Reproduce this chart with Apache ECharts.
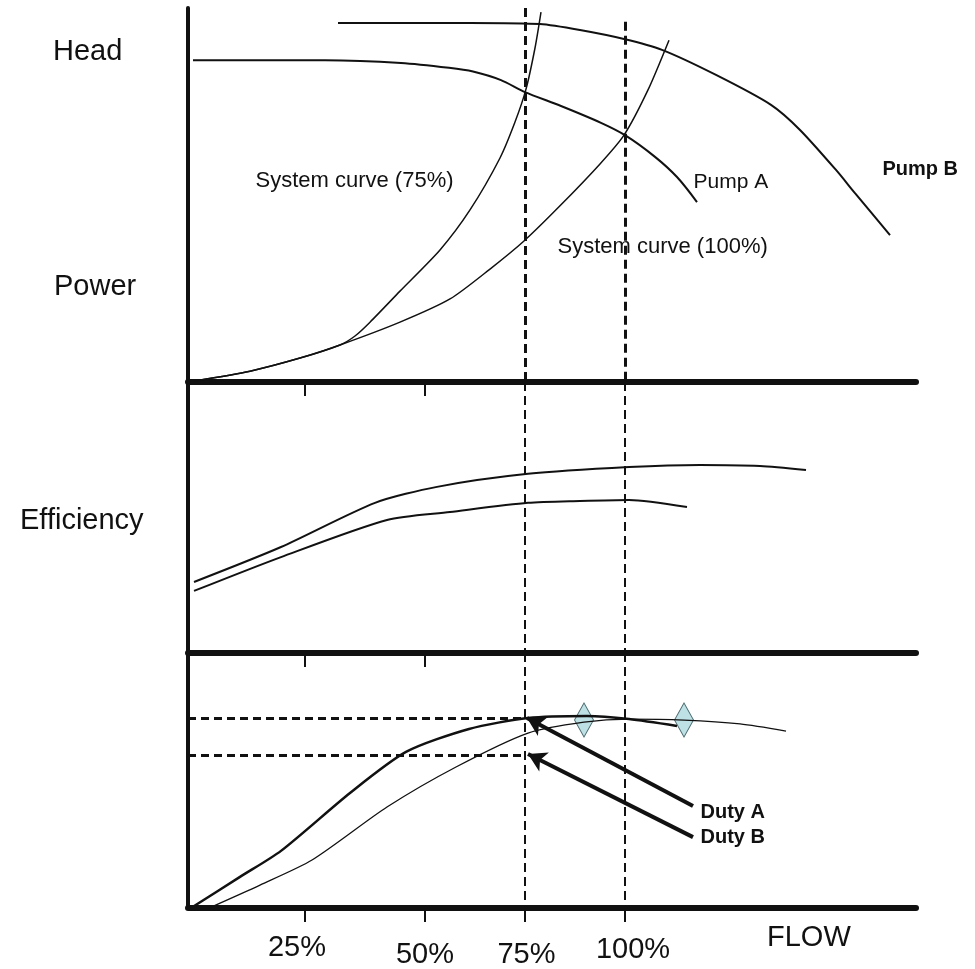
<!DOCTYPE html>
<html><head><meta charset="utf-8">
<script src="https://cdn.jsdelivr.net/npm/echarts@6/dist/echarts.min.js"></script>
<style>html,body{margin:0;padding:0;background:#fff}#c{width:975px;height:969px}</style>
</head><body><div id="c"></div>
<script>
// ---- x scale: flow (%) on the schematic's drawn scale ----
const flowMin = -9.25, flowMax = 172.75;
const flowTicks = [20, 50, 75, 100];            // where the tick marks are drawn
const flowTickLabels = ['25%', '50%', '75%', '100%'];
const panelTicks = [20, 50];
const dutyFlows = [75, 100];                    // dashed duty lines

// ---- Panel 1: head / system curves  [flow, value 0-100] ----
const pumpAHead = [[-8,86],[9,86],[25,86],[44,85.3],[56,84],[62,83],[69,80.7],[75,77.5],[84,73.8],[94,69.3],[100,66],[107.5,60.2],[113,54.8],[118,48.1]];
const pumpBHead = [[28.25,96],[43.75,96],[61.25,96],[78.75,95.7],[88.75,94.1],[99.75,91.7],[109.25,88.8],[122.75,82.1],[136.5,74.1],[143.75,67.4],[152.75,56.7],[157.5,50.5],[166.25,39.3]];
const system75 = [[-7.5,0.3],[6.25,2.9],[18.75,6.4],[28.75,9.9],[32.5,12.3],[36.25,16.0],[43.75,24.3],[53.75,35.3],[61.25,46.0],[68.75,59.9],[72.5,69.5],[75.25,78.3],[77.5,89.3],[79,98.9]];
const system100 = [[-7.5,0.3],[6.25,2.9],[18.75,6.4],[28.75,9.9],[43.75,16.0],[56.25,22.2],[66.25,30.2],[74.75,37.7],[83.75,47.1],[93.75,58.3],[99.75,66.0],[105.75,78.1],[111,91.4]];
const duty100Top = 96.3;
const panel1Names = ['System curve (75%)', 'System curve (100%)', 'Pump A', 'Pump B'];
const panel1NamePos = [[7.5,53.7],[83,36.1],[117,53.5],[164.25,56.7]];

// ---- Panel 2: efficiency ----
const effUpper = [[-7.75,26.2],[14,39.1],[37.5,55.4],[53,61.3],[75.75,66.1],[101,68.6],[118.75,69.4],[133.75,69.0],[145.25,67.5]];
const effLower = [[-7.75,22.9],[14,35.4],[40.5,49.1],[56.25,52.0],[75.75,55.4],[88.75,56.1],[101,56.5],[115.5,53.9]];

// ---- Panel 3: duty curves ----
const dutyCurveA = [[-8.5,0],[3.75,12.2],[14,22.4],[31.25,45.1],[45.25,61.2],[61,70.2],[75.75,74.5],[90.5,75.3],[101,74.1],[113,71.4]];
const dutyCurveB = [[-4,0],[8.75,9.0],[21.75,18.8],[40.5,39.6],[57.75,55.3],[75.75,68.6],[89.75,72.9],[101,74.1],[114.75,73.7],[128.75,72.2],[140.25,69.4]];
const bepPoints = [[89.75,73.7],[114.75,73.7]];
const dutyLevels = [74.5, 60.0];
const dutyArrows = [[[117,40.0],[75.5,74.5]], [[117,27.8],[75.75,60.4]]];
const dutyNames = ['Duty A', 'Duty B'];
const dutyNamePos = [[118.75,37.6],[118.75,27.5]];

// ---- styles ----
const INK = '#111';
const FONT = '"Liberation Sans", Arial, sans-serif';
const GL = 188, GW = 728;
const grids = [
  {left: GL, top: 8, width: GW, height: 374},
  {left: GL, top: 382, width: GW, height: 271},
  {left: GL, top: 653, width: GW, height: 255}
];
function xAxis(i, ticks, labels) {
  return {
    type: 'value', gridIndex: i, min: flowMin, max: flowMax,
    axisLine: {show: true, onZero: false, lineStyle: {color: INK, width: 6}},
    axisTick: {show: true, customValues: ticks, length: 14, lineStyle: {color: INK, width: 2}},
    axisLabel: labels ? {
      show: true, customValues: ticks, margin: 25, fontSize: 29, color: INK, fontFamily: FONT,
      formatter: v => { const k = flowTicks.indexOf(v); return '{t' + k + '|' + flowTickLabels[k] + '}'; },
      rich: {
        t0: {padding: [0, 16, 0, 0]},
        t1: {padding: [7, 0, 0, 0]},
        t2: {padding: [7, 0, 0, 3]},
        t3: {padding: [2, 0, 0, 16]}
      }
    } : {show: false},
    splitLine: {show: false}
  };
}
function yAxis(i) {
  return {
    type: 'value', gridIndex: i, min: 0, max: 100,
    axisLine: {show: true, onZero: false, lineStyle: {color: INK, width: 4}},
    axisTick: {show: false}, axisLabel: {show: false}, splitLine: {show: false}
  };
}
function curve(name, data, i, width, extra) {
  return Object.assign({
    name, type: 'line', xAxisIndex: i, yAxisIndex: i, data, smooth: 0.25,
    showSymbol: false, symbol: 'none', silent: true,
    lineStyle: {color: INK, width}
  }, extra || {});
}
function vDash(width, top) {
  return dutyFlows.map((f, k) => [
    {coord: [f, top ? top[k] : 100]}, {coord: [f, 0]}
  ]).map(d => { d[0].lineStyle = {type: [9, 5], width, color: INK}; return d; });
}
function textSeries(i, names, pos, styles) {
  return {
    type: 'scatter', xAxisIndex: i, yAxisIndex: i, silent: true, symbolSize: 1,
    itemStyle: {color: 'rgba(0,0,0,0)', opacity: 1},
    data: names.map((n, k) => ({
      name: n, value: pos[k],
      label: Object.assign({show: true, position: 'right', distance: 0, formatter: '{b}',
        color: INK, fontFamily: FONT, opacity: 1}, styles[k])
    }))
  };
}

const option = {
  animation: false,
  backgroundColor: '#fff',
  grid: grids,
  xAxis: [xAxis(0, panelTicks, false), xAxis(1, panelTicks, false), xAxis(2, flowTicks, true)],
  yAxis: [yAxis(0), yAxis(1), yAxis(2)],
  graphic: [
    {type: 'text', x: 53, y: 51.5, style: {text: 'Head', font: '29px ' + FONT, fill: INK, verticalAlign: 'middle'}},
    {type: 'text', x: 54, y: 286.5, style: {text: 'Power', font: '29px ' + FONT, fill: INK, verticalAlign: 'middle'}},
    {type: 'text', x: 20, y: 521, style: {text: 'Efficiency', font: '29px ' + FONT, fill: INK, verticalAlign: 'middle'}},
    {type: 'text', x: 767, y: 937.5, style: {text: 'FLOW', font: '29px ' + FONT, fill: INK, verticalAlign: 'middle'}}
  ],
  series: [
    curve('Pump A', pumpAHead, 0, 2, {
      markLine: {silent: true, symbol: ['none', 'none'], label: {show: false},
        data: vDash(3, [100, duty100Top])}
    }),
    curve('Pump B', pumpBHead, 0, 2),
    curve('System curve (75%)', system75, 0, 1.5),
    curve('System curve (100%)', system100, 0, 1.5),
    textSeries(0, panel1Names, panel1NamePos, [
      {fontSize: 22}, {fontSize: 22}, {fontSize: 21}, {fontSize: 20, fontWeight: 'bold'}
    ]),

    curve('Efficiency B', effUpper, 1, 2, {
      markLine: {silent: true, symbol: ['none', 'none'], label: {show: false}, data: vDash(2)}
    }),
    curve('Efficiency A', effLower, 1, 2),

    curve('Duty curve A', dutyCurveA, 2, 2.5, {
      markLine: {silent: true, symbol: ['none', 'none'], label: {show: false},
        data: vDash(2).concat(dutyLevels.map(v => [
          {coord: [flowMin, v], lineStyle: {type: [8, 5], width: 3, color: INK}},
          {coord: [75.25, v]}
        ]))}
    }),
    curve('Duty curve B', dutyCurveB, 2, 1.3, {
      markLine: {silent: true, label: {show: false}, symbol: ['none', 'arrow'], symbolSize: [16, 18],
        lineStyle: {type: 'solid', width: 4, color: INK},
        data: dutyArrows.map(a => [{coord: a[0]}, {coord: a[1]}])}
    }),
    {
      type: 'scatter', xAxisIndex: 2, yAxisIndex: 2, silent: true, data: bepPoints,
      symbol: 'diamond', symbolSize: [19, 34],
      itemStyle: {color: '#bde1e5', borderColor: '#4d6c72', borderWidth: 1, opacity: 1}
    },
    textSeries(2, dutyNames, dutyNamePos, [
      {fontSize: 20, fontWeight: 'bold'},
      {fontSize: 20, fontWeight: 'bold'}
    ])
  ]
};
const chart = echarts.init(document.getElementById('c'), null, {renderer: 'canvas'});
chart.setOption(option);
</script>
</body></html>
